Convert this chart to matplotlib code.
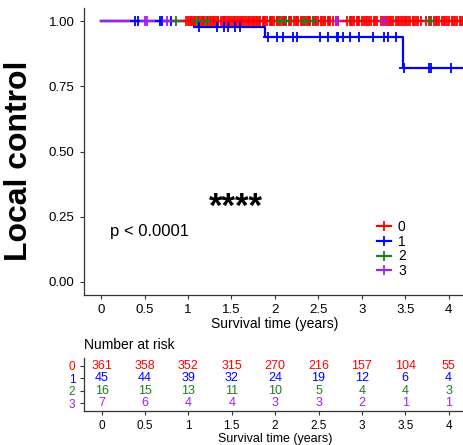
import numpy as np
import matplotlib
matplotlib.use("Agg")
import matplotlib.pyplot as plt
from matplotlib.lines import Line2D

plt.rcParams['font.family'] = ['Liberation Sans', 'DejaVu Sans']

# Groups and colours
groups = ["0", "1", "2", "3"]
colors = ["#FF0000", "#0000FF", "#1E7D1E", "#A020F0"]

# Step curves (time, survival); groups 0, 2, 3 stay at 1
step_t_0 = [0, 4.3]
step_s_0 = [1.0, 1.0]
step_t_1 = [0, 1.07, 1.89, 3.48, 4.3]
step_s_1 = [1.0, 0.977, 0.938, 0.82, 0.82]
step_t_2 = [0, 4.3]
step_s_2 = [1.0, 1.0]
step_t_3 = [0, 4.3]
step_s_3 = [1.0, 1.0]

# Censor times
cens_0 = [0.98, 1.00, 1.02, 1.03, 1.05, 1.07, 1.08, 1.11, 1.12, 1.14, 1.16, 1.17, 1.19, 1.22,
          1.23, 1.25, 1.27, 1.29, 1.30, 1.32, 1.34, 1.35, 1.38, 1.40, 1.41, 1.43, 1.45, 1.47,
          1.48, 1.51, 1.53, 1.54, 1.56, 1.59, 1.61, 1.62, 1.64, 1.67, 1.69, 1.70, 1.72, 1.75,
          1.76, 1.78, 1.80, 1.82, 1.83, 1.86, 1.88, 1.89, 1.91, 1.94, 1.95, 1.97, 1.99, 2.02,
          2.03, 2.05, 2.08, 2.10, 2.11, 2.13, 2.16, 2.17, 2.19, 2.22, 2.24, 2.25, 2.27, 2.30,
          2.31, 2.33, 2.36, 2.38, 2.39, 2.41, 2.44, 2.46, 2.47, 2.50, 2.53, 2.54, 2.56, 2.58,
          2.61, 2.62, 2.64, 2.67, 2.70, 2.73, 2.83, 2.86, 2.88, 2.89, 2.91, 2.94, 2.96, 2.97,
          3.00, 3.03, 3.05, 3.06, 3.08, 3.11, 3.14, 3.15, 3.17, 3.22, 3.25, 3.26, 3.28, 3.30,
          3.33, 3.34, 3.36, 3.39, 3.42, 3.43, 3.45, 3.47, 3.50, 3.51, 3.53, 3.56, 3.59, 3.60,
          3.62, 3.65, 3.68, 3.74, 3.77, 3.78, 3.80, 3.83, 3.86, 3.87, 3.89, 3.92, 3.95, 3.96,
          3.98, 4.01, 4.04, 4.05, 4.07, 4.10, 4.13, 4.14, 4.16, 4.19]
cens_1 = [0.39, 0.42, 0.68, 0.70, 0.80, 1.13, 1.33, 1.41, 1.46, 1.54, 1.60, 1.92, 2.02, 2.09,
          2.21, 2.25, 2.52, 2.61, 2.71, 2.73, 2.78, 2.86, 2.97, 3.13, 3.26, 3.30, 3.40, 3.49,
          3.77, 3.80, 4.03]
cens_2 = [0.86, 1.10, 1.21, 2.06, 2.13, 2.34, 2.44, 3.78]
cens_3 = [0.50, 0.53, 0.76, 2.71, 3.26]

# Number at risk table
risk_times = [0, 0.5, 1, 1.5, 2, 2.5, 3, 3.5, 4]
risk_0 = [361, 358, 352, 315, 270, 216, 157, 104, 55]
risk_1 = [45, 44, 39, 32, 24, 19, 12, 6, 4]
risk_2 = [16, 15, 13, 11, 10, 5, 4, 4, 3]
risk_3 = [7, 6, 4, 4, 3, 3, 2, 1, 1]

steps = [(step_t_0, step_s_0), (step_t_1, step_s_1), (step_t_2, step_s_2), (step_t_3, step_s_3)]
cens = [cens_0, cens_1, cens_2, cens_3]
risks = [risk_0, risk_1, risk_2, risk_3]

x_ticks = [0, 0.5, 1, 1.5, 2, 2.5, 3, 3.5, 4]
x_labels = ["0", "0.5", "1", "1.5", "2", "2.5", "3", "3.5", "4"]
y_ticks = [0, 0.25, 0.5, 0.75, 1.0]
y_labels = ["0.00", "0.25", "0.50", "0.75", "1.00"]

W, H = 463, 445
fig = plt.figure(figsize=(W / 100, H / 100), dpi=100)

def style_axis(ax):
    for s in ["top", "right"]:
        ax.spines[s].set_visible(False)
    for s in ["left", "bottom"]:
        ax.spines[s].set_color("#333333")
        ax.spines[s].set_linewidth(0.9)
    ax.tick_params(color="#333333", length=3, width=0.8)

# Main survival panel
ax = fig.add_axes([83.7 / W, 1 - 295 / H, (466 - 83.7) / W, (295 - 8.3) / H])
style_axis(ax)

def surv_at(t_list, s_list, t):
    i = np.searchsorted(t_list, t, side="right") - 1
    return s_list[i]

for (t, s), c in zip(steps, colors):
    ax.step(t, s, where="post", color=c, lw=1.6, zorder=2)
for (t, s), ct, c in zip(steps, cens, colors):
    ys = [surv_at(t, s, v) for v in ct]
    ax.plot(ct, ys, ls="none", marker="+", ms=6.5, mew=1.3, color=c, zorder=3)

ax.set_xlim(-0.2, 4.2)
ax.set_ylim(-0.05, 1.05)
ax.set_xticks(x_ticks)
ax.set_xticklabels(x_labels, fontsize=9.5)
ax.set_yticks(y_ticks)
ax.set_yticklabels(y_labels, fontsize=9.5)
ax.set_xlabel("Survival time (years)", fontsize=10, labelpad=1)

ax.text(0.1, 0.195, "p < 0.0001", fontsize=12, ha="left", va="center")
ax.text(1.55, 0.285, "****", fontsize=25, fontweight="bold", ha="center", va="center")

handles = [Line2D([0], [0], color=c, lw=1.6, marker="+", ms=6.5, mew=1.3) for c in colors]
ax.legend(handles, groups, loc="center", bbox_to_anchor=(0.805, 0.16), frameon=False,
          fontsize=10, handlelength=1.0, handletextpad=0.5, labelspacing=0.05, borderpad=0)

fig.text(19.5 / W, 1 - 161 / H, "Local control", rotation=90, fontsize=23,
         fontweight="bold", ha="center", va="center")

# Risk table
axr = fig.add_axes([84.3 / W, 1 - 410.7 / H, (466 - 84.3) / W, 52.7 / H])
style_axis(axr)
for i, (r, c) in enumerate(zip(risks, colors)):
    for tt, n in zip(risk_times, r):
        axr.text(tt, i, str(n), color=c, fontsize=9, ha="center", va="center")
axr.set_xlim(-0.2, 4.2)
axr.set_ylim(3.6, -0.6)
axr.set_yticks(range(len(groups)))
axr.set_yticklabels(groups, fontsize=8.5)
for lab, c in zip(axr.get_yticklabels(), colors):
    lab.set_color(c)
axr.set_xticks(x_ticks)
axr.set_xticklabels(x_labels, fontsize=8.5)
axr.set_xlabel("Survival time (years)", fontsize=9, labelpad=1)
fig.text(84 / W, 1 - 345 / H, "Number at risk", fontsize=10, ha="left", va="center")

fig.savefig("out.png", dpi=100)
